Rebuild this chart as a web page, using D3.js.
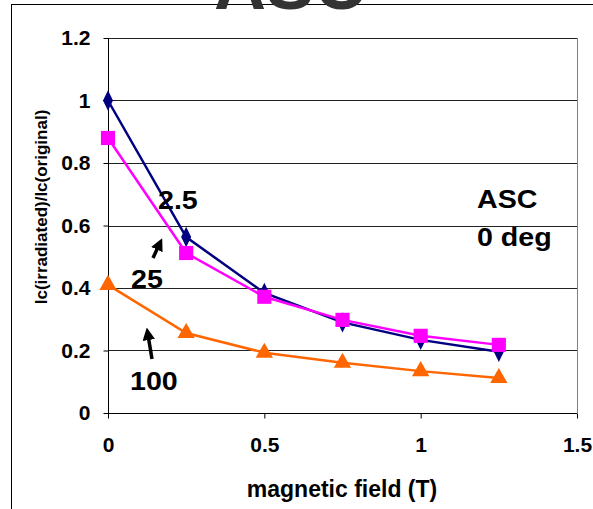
<!DOCTYPE html>
<html><head><meta charset="utf-8">
<script src="https://cdn.jsdelivr.net/npm/d3@7/dist/d3.min.js"></script>
<style>body{margin:0;background:#fff}svg{display:block}text{font-family:Arial,"Liberation Sans",sans-serif;font-weight:bold}</style>
</head><body>
<script>
const fields = [0, 0.25, 0.5, 0.75, 1, 1.25];
const fluence2_5 = [1.0, 0.563, 0.384, 0.290, 0.234, 0.196];
const fluence25 = [0.88, 0.512, 0.372, 0.298, 0.247, 0.218];
const fluence100 = [0.41, 0.256, 0.193, 0.161, 0.134, 0.112];
const xTicks = [0, 0.5, 1, 1.5];
const yTicks = [0, 0.2, 0.4, 0.6, 0.8, 1, 1.2];
const seriesNames = ["2.5", "25", "100"];

(function () {
const W = 593, H = 509;
const svg = d3.select("body").append("svg").attr("width", W).attr("height", H);
const pL = 108, pR = 577, pT = 38, pB = 413;
const x = d3.scaleLinear().domain([0, 1.5]).range([pL, pR]);
const y = d3.scaleLinear().domain([0, 1.2]).range([pB, pT]);

// outer frame
svg.append("rect").attr("x", 11.5).attr("y", 4.5).attr("width", 700).attr("height", 600)
  .attr("fill", "none").attr("stroke", "#000").attr("stroke-width", 1);

// gridlines
svg.append("g").selectAll("line").data(yTicks.filter(d => d > 0)).join("line")
  .attr("x1", pL).attr("x2", pR).attr("y1", d => Math.round(y(d)) + 0.5).attr("y2", d => Math.round(y(d)) + 0.5)
  .attr("stroke", "#222").attr("stroke-width", 1);
// right border
svg.append("line").attr("x1", pR + 0.5).attr("x2", pR + 0.5).attr("y1", pT).attr("y2", pB)
  .attr("stroke", "#808080");

// axes
const yAxis = svg.append("g").attr("transform", `translate(${pL + 0.5},0)`)
  .call(d3.axisLeft(y).tickValues(yTicks).tickFormat(d3.format("")).tickSize(5).tickPadding(13));
const xAxis = svg.append("g").attr("transform", `translate(0,${pB + 0.5})`)
  .call(d3.axisBottom(x).tickValues(xTicks).tickFormat(d3.format("")).tickSize(5).tickPadding(19));
[yAxis, xAxis].forEach(g => {
  g.select(".domain").attr("stroke", "#000");
  g.selectAll(".tick line").attr("stroke", "#000");
  g.selectAll("text").attr("font-size", 21).attr("font-family", "Arial, 'Liberation Sans', sans-serif")
    .attr("font-weight", "bold").attr("fill", "#000");
});
xAxis.select(".domain").attr("d", `M${pL},0H${pR}`);
yAxis.select(".domain").attr("d", `M0,${pT}V${pB}`);

// series
const series = [
  {name: seriesNames[0], vals: fluence2_5, color: "#000080", sym: d3.symbolDiamond, size: 120},
  {name: seriesNames[1], vals: fluence25, color: "#FF00FF", sym: d3.symbolSquare, size: 200},
  {name: seriesNames[2], vals: fluence100, color: "#FF6600", sym: d3.symbolTriangle, size: 130}
];
const line = d3.line().x(d => x(d[0])).y(d => y(d[1]));
series.forEach(s => {
  const pts = fields.map((f, i) => [f, s.vals[i]]);
  svg.append("path").datum(pts).attr("d", line).attr("fill", "none")
    .attr("stroke", s.color).attr("stroke-width", 2.5);
  svg.append("g").selectAll("path").data(pts).join("path")
    .attr("transform", d => `translate(${x(d[0])},${y(d[1])})` + (s.sym === d3.symbolDiamond ? " scale(0.85,1)" : ""))
    .attr("d", d3.symbol(s.sym, s.size)).attr("fill", s.color);
});

// title (clipped)
svg.append("text").attr("x", 290).attr("y", 9).attr("text-anchor", "middle")
  .attr("font-size", 72).attr("fill", "#333").text("ASC");

// axis titles
svg.append("text").attr("x", 342).attr("y", 497).attr("text-anchor", "middle")
  .attr("font-size", 23).text("magnetic field (T)");
svg.append("text").attr("transform", "translate(47,207) rotate(-90)").attr("text-anchor", "middle")
  .attr("font-size", 17).text("Ic(irradiated)/Ic(original)");

// annotations
const ann = [
  {t: seriesNames[0], x: 158, y: 209},
  {t: seriesNames[1], x: 131, y: 288},
  {t: seriesNames[2], x: 130, y: 390},
  {t: "ASC", x: 477, y: 208},
  {t: "0 deg", x: 477, y: 246}
];
svg.append("g").selectAll("text").data(ann).join("text")
  .attr("transform", d => `translate(${d.x},${d.y}) scale(1.1,1)`)
  .attr("font-size", 26).text(d => d.t);

// arrows
const defs = svg.append("defs");
defs.append("marker").attr("id", "ah").attr("viewBox", "0 0 10 10").attr("refX", 4).attr("refY", 5)
  .attr("markerWidth", 3.6).attr("markerHeight", 3.6).attr("orient", "auto")
  .append("path").attr("d", "M0,0L10,5L0,10z").attr("fill", "#000");
[[153, 258, 159, 245], [152, 359, 148, 335]].forEach(a => {
  svg.append("line").attr("x1", a[0]).attr("y1", a[1]).attr("x2", a[2]).attr("y2", a[3])
    .attr("stroke", "#000").attr("stroke-width", 3.5).attr("marker-end", "url(#ah)");
});
})();
</script>
</body></html>
